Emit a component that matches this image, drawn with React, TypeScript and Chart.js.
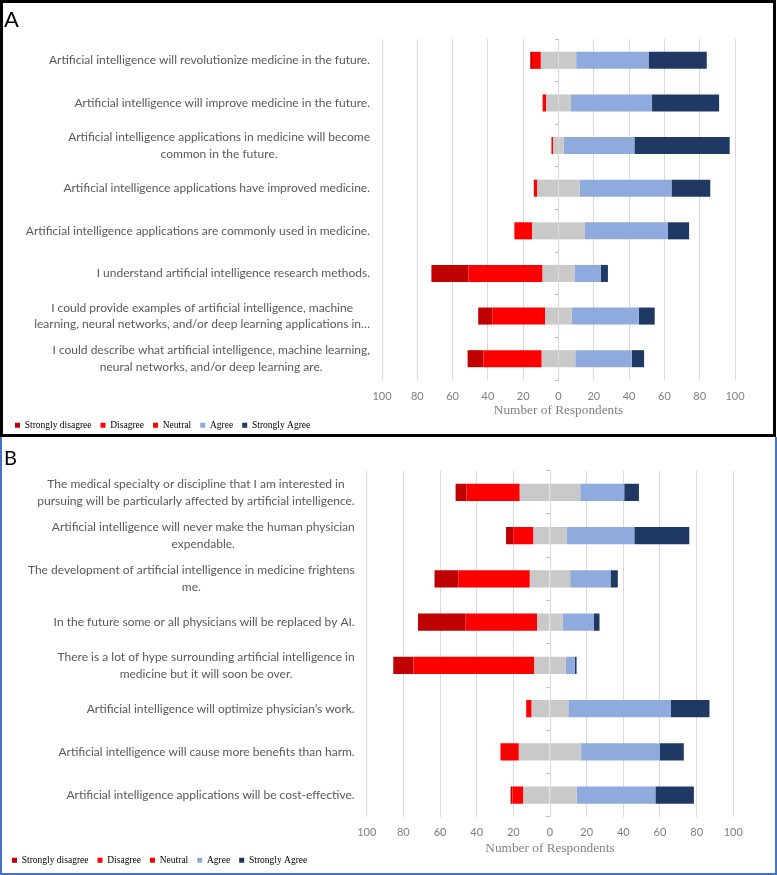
import React, { useEffect, useRef } from "react";
import { Chart, registerables } from "chart.js";

Chart.register(...registerables);

// ---------- DATA ----------
const SERIES_NAMES = ["Strongly disagree", "Disagree", "Neutral", "Agree", "Strongly Agree"];

const A_LABELS = [
  ["Artificial intelligence will revolutionize medicine in the future."],
  ["Artificial intelligence will improve medicine in the future."],
  ["Artificial intelligence applications in medicine will become", "common in the future."],
  ["Artificial intelligence applications have improved medicine."],
  ["Artificial intelligence applications are commonly used in medicine."],
  ["I understand artificial intelligence research methods."],
  ["I could provide examples of artificial intelligence, machine", "learning, neural networks, and/or deep learning applications in\u2026"],
  ["I could describe what artificial intelligence, machine learning,", "neural networks, and/or deep learning are."],
];
const A_STRONGLY_DISAGREE = [1, 0, 0, 0, 0, 21, 8, 9];
const A_DISAGREE = [5, 2, 1, 2, 10, 42, 30, 33];
const A_NEUTRAL = [20, 14, 6, 24, 30, 18, 15, 19];
const A_AGREE = [41, 46, 40, 52, 47, 15, 38, 32];
const A_STRONGLY_AGREE = [33, 38, 54, 22, 12, 4, 9, 7];

const B_LABELS = [
  ["The medical specialty or discipline that I am interested in", "pursuing will be particularly affected by artificial intelligence."],
  ["Artificial intelligence will never make the human physician", "expendable."],
  ["The development of artificial intelligence in medicine frightens", "me."],
  ["In the future some or all physicians will be replaced by AI."],
  ["There is a lot of hype surrounding artificial intelligence in", "medicine but it will soon be over."],
  ["Artificial intelligence will optimize physician\u2019s work."],
  ["Artificial intelligence will cause more benefits than harm."],
  ["Artificial intelligence applications will be cost-effective."],
];
const B_STRONGLY_DISAGREE = [6, 4, 13, 26, 11, 0, 0, 1];
const B_DISAGREE = [29, 11, 39, 39, 66, 3, 10, 6];
const B_NEUTRAL = [33, 18, 22, 14, 17, 20, 34, 29];
const B_AGREE = [24, 37, 22, 17, 5, 56, 43, 43];
const B_STRONGLY_AGREE = [8, 30, 4, 3, 1, 21, 13, 21];

const X_TICK_STEP = 20;
const X_MIN = -100;
const X_MAX = 100;

// ---------- STYLE ----------
const C_SD = "#C00000";
const C_D = "#FF0000";
const C_N = "#C9C9C9";
const C_A = "#8FAADC";
const C_SA = "#203864";
const LEGEND_COLORS = [C_SD, C_D, C_D, C_A, C_SA];

const SANS = "Lato, 'Open Sans', sans-serif";
const SERIF = "'Liberation Serif', 'Times New Roman', serif";

const yLabelPlugin = {
  id: "wrappedYLabels",
  afterDraw(chart: any, _args: any, opts: any) {
    const { ctx, chartArea } = chart;
    const scale = chart.scales.y;
    const labels = chart.data.labels as string[][];
    ctx.save();
    ctx.font = `${opts.size}px ${SANS}`;
    ctx.fillStyle = opts.color;
    ctx.textAlign = "center";
    ctx.textBaseline = "middle";
    labels.forEach((lines, i) => {
      const y = scale.getPixelForValue(i);
      const w = Math.max(...lines.map((l) => ctx.measureText(l).width));
      const cx = chartArea.left - opts.gap - w / 2;
      lines.forEach((line, k) => {
        ctx.fillText(line, cx, y + (k - (lines.length - 1) / 2) * opts.lineHeight);
      });
    });
    ctx.restore();
  },
};

type Geom = {
  top: number;
  height: number;
  padLeft: number;
  padRight: number;
  padTop: number;
  yAxisW: number;
  xAxisH: number;
  tickPad: number;
  titlePadBottom: number;
  legendPad: number;
  labelGap: number;
};

function buildConfig(labels: string[][], sd: number[], d: number[], n: number[], a: number[], sa: number[], g: Geom): any {
  const neg = (arr: number[]) => arr.map((v) => (v === 0 ? null : -v));
  const datasets = [
    { label: "Neutral", data: n.map((v) => -v / 2), backgroundColor: C_N },
    { label: "Disagree", data: neg(d), backgroundColor: C_D },
    { label: "Strongly disagree", data: neg(sd), backgroundColor: C_SD },
    { label: "Neutral ", data: n.map((v) => v / 2), backgroundColor: C_N },
    { label: "Agree", data: a, backgroundColor: C_A },
    { label: "Strongly Agree", data: sa, backgroundColor: C_SA },
  ];
  return {
    type: "bar",
    data: { labels, datasets },
    plugins: [yLabelPlugin],
    options: {
      indexAxis: "y",
      responsive: false,
      maintainAspectRatio: false,
      animation: false,
      events: [],
      layout: { padding: { left: g.padLeft, right: g.padRight, top: g.padTop, bottom: 0 } },
      datasets: { bar: { barPercentage: 0.4, categoryPercentage: 1, borderWidth: 0 } },
      scales: {
        x: {
          stacked: true,
          min: X_MIN,
          max: X_MAX,
          ticks: {
            stepSize: X_TICK_STEP,
            callback: (v: number) => Math.abs(v),
            font: { family: SANS, size: 11 },
            color: "#7f7f7f",
            padding: g.tickPad,
            maxRotation: 0,
            autoSkip: false,
          },
          grid: { color: "#d9d9d9", drawTicks: false, lineWidth: 1 },
          border: { display: false },
          title: {
            display: true,
            text: "Number of Respondents",
            font: { family: SERIF, size: 13.3 },
            color: "#808080",
            padding: { top: 0, bottom: g.titlePadBottom },
          },
          afterFit: (s: any) => {
            s.height = g.xAxisH;
          },
        },
        y: {
          stacked: true,
          display: true,
          grid: { display: false, drawTicks: false },
          border: { display: false },
          ticks: { display: false },
          afterFit: (s: any) => {
            s.width = g.yAxisW;
          },
        },
        y2: {
          type: "category",
          axis: "y",
          position: { x: 0 },
          offset: true,
          grid: { offset: true, drawOnChartArea: false, drawTicks: true, tickLength: 4, color: "#bfbfbf" },
          border: { display: false },
          ticks: { display: false },
        },
      },
      plugins: {
        tooltip: { enabled: false },
        legend: {
          position: "bottom",
          align: "start",
          onClick: () => {},
          labels: {
            boxWidth: 5,
            boxHeight: 5,
            padding: g.legendPad,
            color: "#595959",
            font: { family: SERIF, size: 9.5 },
            generateLabels: () =>
              SERIES_NAMES.map((name, i) => ({
                text: name,
                fillStyle: LEGEND_COLORS[i],
                strokeStyle: LEGEND_COLORS[i],
                lineWidth: 0,
                hidden: false,
                datasetIndex: i,
              })),
          },
        },
        wrappedYLabels: { size: 12, color: "#595959", gap: g.labelGap, lineHeight: 16.7 },
      },
    },
  };
}

function DivergingChart(props: {
  labels: string[][];
  sd: number[];
  d: number[];
  n: number[];
  a: number[];
  sa: number[];
  geom: Geom;
}) {
  const ref = useRef<HTMLCanvasElement>(null);
  const { labels, sd, d, n, a, sa, geom } = props;
  useEffect(() => {
    const chart = new Chart(ref.current as HTMLCanvasElement, buildConfig(labels, sd, d, n, a, sa, geom));
    return () => chart.destroy();
  }, []);
  return (
    <canvas
      ref={ref}
      width={777}
      height={geom.height}
      style={{ position: "absolute", left: 0, top: geom.top, width: 777, height: geom.height }}
    />
  );
}

const GEOM_A: Geom = {
  top: 0,
  height: 440,
  padLeft: 6,
  padRight: 42,
  padTop: 39,
  yAxisW: 376,
  xAxisH: 31.5,
  tickPad: 10,
  titlePadBottom: -7.2,
  legendPad: 9,
  labelGap: 12,
};

const GEOM_B: Geom = {
  top: 436,
  height: 439,
  padLeft: 3,
  padRight: 43.7,
  padTop: 34.7,
  yAxisW: 363.7,
  xAxisH: 29.7,
  tickPad: 9.3,
  titlePadBottom: -9.8,
  legendPad: 9,
  labelGap: 12,
};

export default function App() {
  return (
    <div
      style={{
        position: "absolute",
        left: 0,
        top: 0,
        width: 777,
        height: 875,
        overflow: "hidden",
        background: "#fff",
      }}
    >
      <div
        style={{
          position: "absolute",
          left: 0,
          top: 0,
          width: 776,
          height: 437,
          boxSizing: "border-box",
          border: "3px solid #000",
        }}
      />
      <div
        style={{
          position: "absolute",
          left: 0,
          top: 437,
          width: 777,
          height: 438,
          boxSizing: "border-box",
          borderLeft: "2px solid #4472C4",
          borderRight: "2px solid #4472C4",
          borderBottom: "2px solid #4472C4",
        }}
      />
      <DivergingChart
        labels={A_LABELS}
        sd={A_STRONGLY_DISAGREE}
        d={A_DISAGREE}
        n={A_NEUTRAL}
        a={A_AGREE}
        sa={A_STRONGLY_AGREE}
        geom={GEOM_A}
      />
      <DivergingChart
        labels={B_LABELS}
        sd={B_STRONGLY_DISAGREE}
        d={B_DISAGREE}
        n={B_NEUTRAL}
        a={B_AGREE}
        sa={B_STRONGLY_AGREE}
        geom={GEOM_B}
      />
      <div
        style={{
          position: "absolute",
          left: 4,
          top: 8,
          fontFamily: SANS,
          fontSize: 22,
          lineHeight: "22px",
          color: "#000",
        }}
      >
        A
      </div>
      <div
        style={{
          position: "absolute",
          left: 4,
          top: 447,
          fontFamily: SANS,
          fontSize: 20,
          lineHeight: "20px",
          color: "#000",
        }}
      >
        B
      </div>
    </div>
  );
}
